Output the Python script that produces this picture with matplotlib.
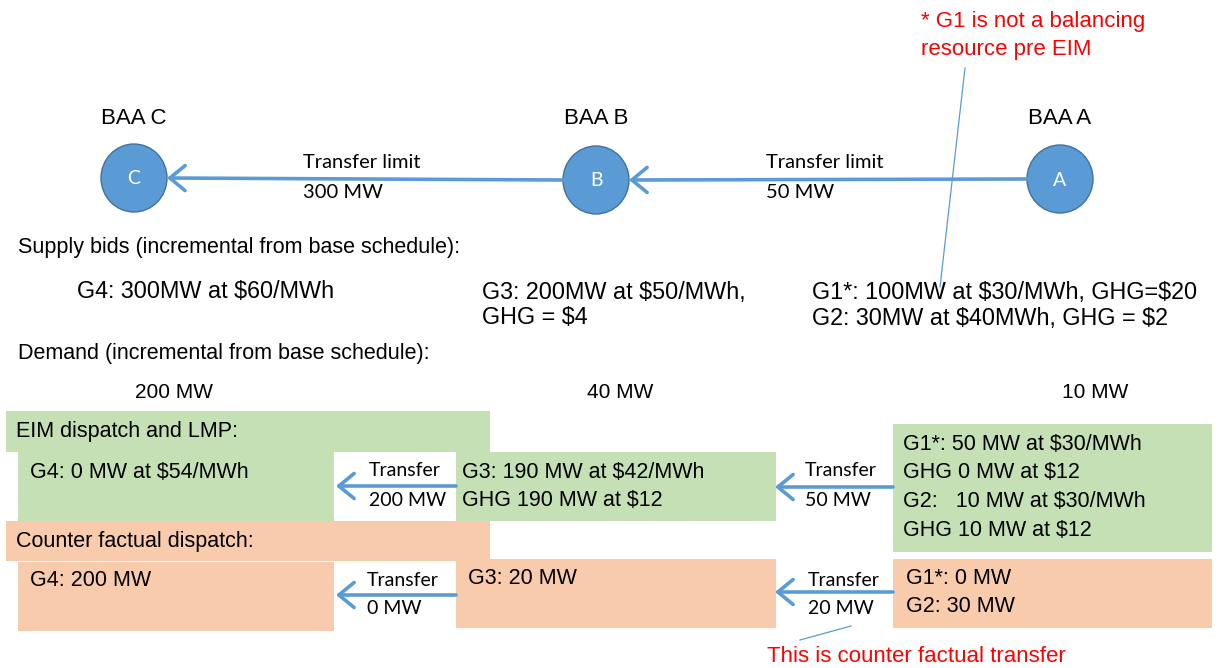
import matplotlib.pyplot as plt
from matplotlib.patches import Ellipse, Rectangle, FancyArrowPatch

# diagram content
NODES = ['C', 'B', 'A']
NODE_LABELS = ['BAA C', 'BAA B', 'BAA A']
LIMITS = ['300 MW', '50 MW']
SUPPLY_BIDS = [['G4: 300MW at $60/MWh'],
               ['G3: 200MW at $50/MWh,', 'GHG = $4'],
               ['G1*: 100MW at $30/MWh, GHG=$20', 'G2: 30MW at $40MWh, GHG = $2']]
DEMAND = ['200 MW', '40 MW', '10 MW']
EIM_DISPATCH = [['G4: 0 MW at $54/MWh'],
                ['G3: 190 MW at $42/MWh', 'GHG 190 MW at $12'],
                ['G1*: 50 MW at $30/MWh', 'GHG 0 MW at $12', 'G2:   10 MW at $30/MWh', 'GHG 10 MW at $12']]
EIM_TRANSFER = ['200 MW', '50 MW']
CF_DISPATCH = [['G4: 200 MW'], ['G3: 20 MW'], ['G1*: 0 MW', 'G2: 30 MW']]
CF_TRANSFER = ['0 MW', '20 MW']

BLUE = '#5B9BD5'
BLUE_EDGE = '#41719C'
GREEN = '#C5E0B4'
ORANGE = '#F8CBAD'
ARIAL = 'Liberation Sans'
CALIBRI = 'Lato'
FS = 15.5

fig = plt.figure(figsize=(12.19, 6.68), dpi=100)
ax = fig.add_axes([0, 0, 1, 1])
ax.set_xlim(0, 1219)
ax.set_ylim(668, 0)
ax.axis('off')


def arrow(x0, x1, y0, y1):
    ax.add_patch(FancyArrowPatch((x0, y0), (x1, y1), arrowstyle='->,head_length=0.55,head_width=0.45',
                                 mutation_scale=20, lw=2.6, color=BLUE, shrinkA=0, shrinkB=0, zorder=3))


def box(x0, y0, x1, y1, c):
    ax.add_patch(Rectangle((x0, y0), x1 - x0, y1 - y0, facecolor=c, edgecolor='none', zorder=1))


def txt(x, y, lines, ha='left', color='black', family=ARIAL, size=FS, pitch=29):
    if isinstance(lines, str):
        lines = [lines]
    for i, s in enumerate(lines):
        ax.text(x, y + i * pitch, s, ha=ha, va='center', color=color, family=family,
                fontsize=size, parse_math=False, zorder=4)


# top: BAA nodes
node_x = [134, 596, 1060]
node_y = [178, 180, 179]
for x, y, n, lab in zip(node_x, node_y, NODES, NODE_LABELS):
    ax.add_patch(Ellipse((x, y), 66, 68, facecolor=BLUE, edgecolor=BLUE_EDGE, lw=1, zorder=2))
    txt(x, y + 1, n, ha='center', color='white', family=CALIBRI, size=14)
    txt(x, 118, lab, ha='center', size=16)

# transfer limit arrows
arrow(node_x[1] - 33, node_x[0] + 33, node_y[1], node_y[0])
arrow(node_x[2] - 33, node_x[1] + 33, node_y[2], node_y[1])
for x, lim in zip([303, 766], LIMITS):
    txt(x, 162, ['Transfer limit', lim], family=CALIBRI, size=14.5, pitch=30)

# red note top right
txt(921, 22, ['* G1 is not a balancing', 'resource pre EIM'], color='#FF0000', size=16, pitch=28)
ax.plot([965, 940], [68, 287], color=BLUE, lw=0.9, zorder=3)

# supply bids
txt(18, 248, 'Supply bids (incremental from base schedule):', size=FS)
for x, s in zip([77, 482, 812], SUPPLY_BIDS):
    txt(x, 292, s, size=16.8, pitch=26)

# demand
txt(18, 354, 'Demand (incremental from base schedule):', size=FS)
for x, d in zip([174, 620, 1095], DEMAND):
    txt(x, 392, d, ha='center', size=15)

# EIM dispatch row (green)
box(6, 411, 490, 452, GREEN)
box(18, 451, 334, 521, GREEN)
box(456, 452, 776, 521, GREEN)
box(893, 424, 1212, 552, GREEN)
txt(16, 432, 'EIM dispatch and LMP:', size=FS)
txt(30, 472, EIM_DISPATCH[0], size=FS)
txt(462, 472, EIM_DISPATCH[1], size=FS, pitch=29)
txt(903, 444, EIM_DISPATCH[2], size=FS, pitch=28.7)
arrow(456, 336, 486, 486)
arrow(893, 775, 487, 487)
for x, t in zip([369, 805], EIM_TRANSFER):
    txt(x, 471, ['Transfer', t], family=CALIBRI, size=14, pitch=30)

# counter factual row (orange)
box(6, 521, 490, 561, ORANGE)
box(18, 562, 334, 631, ORANGE)
box(456, 559, 776, 628, ORANGE)
box(893, 559, 1212, 628, ORANGE)
txt(16, 542, 'Counter factual dispatch:', size=FS)
txt(30, 580, CF_DISPATCH[0], size=FS)
txt(468, 578, CF_DISPATCH[1], size=FS)
txt(906, 578, CF_DISPATCH[2], size=FS, pitch=28)
arrow(456, 336, 595, 595)
arrow(893, 775, 592, 592)
for x, t in zip([367, 808], CF_TRANSFER):
    txt(x, 580, ['Transfer', t], family=CALIBRI, size=14, pitch=29)

# red note bottom
ax.plot([800, 851], [640, 626], color=BLUE, lw=0.9, zorder=3)
txt(767, 657, 'This is counter factual transfer', color='#FF0000', size=16)

fig.savefig('out.png', dpi=100)
